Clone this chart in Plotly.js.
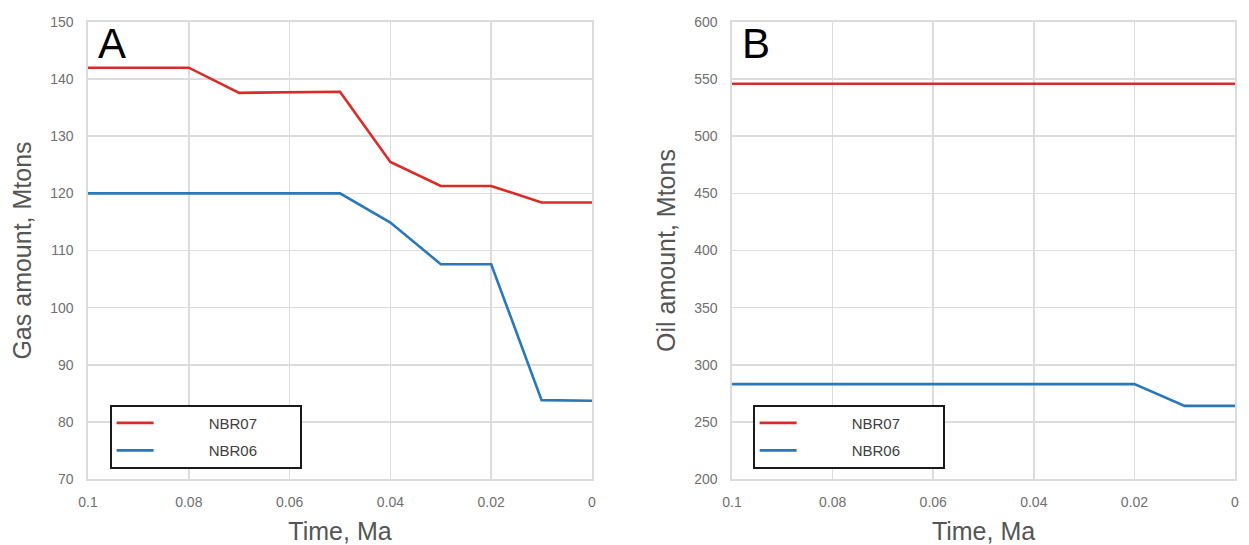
<!DOCTYPE html>
<html>
<head>
<meta charset="utf-8">
<script src="https://cdn.plot.ly/plotly-3.0.1.min.js"></script>
<style>html,body{margin:0;padding:0;background:#fff;}#chart{width:1249px;height:545px;}</style>
</head>
<body>
<div id="chart"></div>
<script>
const timeMa = [0.1, 0.09, 0.08, 0.07, 0.06, 0.05, 0.04, 0.03, 0.02, 0.01, 0];
const gasNBR07 = [142, 142, 142, 137.6, 137.7, 137.8, 125.5, 121.3, 121.3, 118.4, 118.4];
const gasNBR06 = [120, 120, 120, 120, 120, 120, 114.9, 107.6, 107.6, 83.8, 83.7];
const oilNBR07 = [546, 546, 546, 546, 546, 546, 546, 546, 546, 546, 546];
const oilNBR06 = [283, 283, 283, 283, 283, 283, 283, 283, 283, 264, 264];
const xTickVals = [0.1, 0.08, 0.06, 0.04, 0.02, 0];
const xTickText = ['0.1', '0.08', '0.06', '0.04', '0.02', '0'];
const gasTicks = [70, 80, 90, 100, 110, 120, 130, 140, 150];
const oilTicks = [200, 250, 300, 350, 400, 450, 500, 550, 600];
const seriesNames = ['NBR07', 'NBR06'];

const RED = '#dc2a26';
const BLUE = '#2a78b8';
const pad = '\u00A0'.repeat(12);
const tail = '\u00A0'.repeat(9);

function tr(y, name, color, xa, ya, leg, grp) {
  return {
    x: timeMa, y: y, name: pad + name + tail, type: 'scatter', mode: 'lines',
    line: {color: color, width: 2.6}, xaxis: xa, yaxis: ya, legend: leg, legendgroup: grp
  };
}

const data = [
  tr(gasNBR07, seriesNames[0], RED, 'x', 'y', 'legend', 'a1'),
  tr(gasNBR06, seriesNames[1], BLUE, 'x', 'y', 'legend', 'a2'),
  tr(oilNBR07, seriesNames[0], RED, 'x2', 'y2', 'legend2', 'b1'),
  tr(oilNBR06, seriesNames[1], BLUE, 'x2', 'y2', 'legend2', 'b2')
];

const tickFont = {family: 'Liberation Sans, Arial, sans-serif', size: 14, color: '#6f6f6f'};
const titleFont = {family: 'Liberation Sans, Arial, sans-serif', size: 25, color: '#555555'};
const grid = '#dcdcdc';

function xaxis(domain, anchor) {
  return {
    domain: domain, anchor: anchor, range: [0.1, 0], autorange: false,
    tickvals: xTickVals, ticktext: xTickText, ticks: '', ticklabelstandoff: 10,
    showgrid: true, gridcolor: grid, gridwidth: 1.6,
    showline: true, linecolor: grid, linewidth: 1.6, mirror: true,
    zeroline: false, tickfont: tickFont,
    title: {text: 'Time, Ma', font: titleFont, standoff: 15}
  };
}
function yaxis(range, ticks, anchor, title) {
  return {
    anchor: anchor, range: range, autorange: false,
    tickvals: ticks, ticks: '', ticklabelstandoff: 10,
    showgrid: true, gridcolor: grid, gridwidth: 1.6,
    showline: true, linecolor: grid, linewidth: 1.6, mirror: true,
    zeroline: false, tickfont: tickFont,
    title: {text: title, font: titleFont, standoff: 11}
  };
}
function legend(x) {
  return {
    x: x, y: 0.1619, xanchor: 'left', yanchor: 'top',
    bgcolor: '#ffffff', bordercolor: '#1a1a1a', borderwidth: 1.6,
    font: {family: 'Liberation Sans, Arial, sans-serif', size: 15, color: '#404040'},
    tracegroupgap: 5, traceorder: 'grouped', itemwidth: 37
  };
}

const layout = {
  width: 1249, height: 545,
  margin: {l: 88, r: 14, t: 22, b: 66},
  paper_bgcolor: '#ffffff', plot_bgcolor: '#ffffff',
  showlegend: true,
  xaxis: xaxis([0, 0.4394], 'y'),
  yaxis: yaxis([70, 150], gasTicks, 'x', 'Gas amount, Mtons'),
  xaxis2: xaxis([0.5615, 1], 'y2'),
  yaxis2: yaxis([200, 600], oilTicks, 'x2', 'Oil amount, Mtons'),
  legend: legend(0.0192),
  legend2: legend(0.5798),
  annotations: [
    {text: 'A', xref: 'x domain', yref: 'y domain', x: 0.015, y: 1.008, xanchor: 'left', yanchor: 'top', showarrow: false,
     font: {family: 'Liberation Sans, Arial, sans-serif', size: 42, color: '#000'}},
    {text: 'B', xref: 'x2 domain', yref: 'y2 domain', x: 0.015, y: 1.008, xanchor: 'left', yanchor: 'top', showarrow: false,
     font: {family: 'Liberation Sans, Arial, sans-serif', size: 42, color: '#000'}}
  ]
};

Plotly.newPlot('chart', data, layout, {staticPlot: true, displayModeBar: false});
</script>
</body>
</html>
